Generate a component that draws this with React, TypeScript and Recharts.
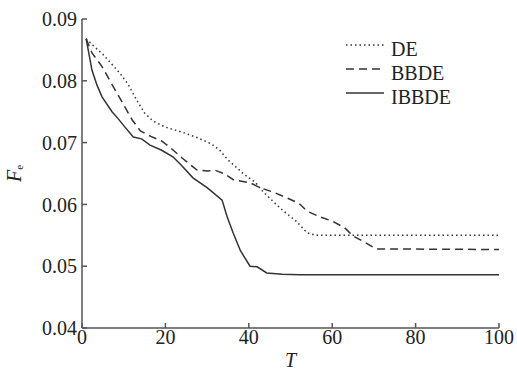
import React from "react";
import { LineChart, Line, XAxis, YAxis, Legend } from "recharts";

const deT = [1, 3, 5, 7, 9, 11, 13, 15, 17, 20, 24, 28, 31, 33, 35, 37, 39, 41.5, 43.5, 47.5, 51.5, 54, 56, 100];
const deV = [0.0868, 0.0855, 0.0843, 0.0828, 0.0813, 0.0795, 0.077, 0.0748, 0.0735, 0.0725, 0.0717, 0.0707, 0.0698, 0.0688, 0.0672, 0.066, 0.0648, 0.0636, 0.062, 0.0594, 0.0572, 0.0554, 0.055, 0.055];

const bbdeT = [1, 2.4, 4.8, 7.7, 9.6, 12, 14, 16.5, 19, 21, 24, 27.5, 30, 32, 34, 36.3, 40.3, 42.7, 45.8, 49, 52, 54, 57, 60, 63, 65, 68, 70.5, 100];
const bbdeV = [0.0868, 0.0845, 0.0823, 0.0788, 0.0766, 0.0737, 0.0719, 0.071, 0.0703, 0.0693, 0.0675, 0.0656, 0.0654, 0.0655, 0.065, 0.064, 0.0635, 0.0627, 0.062, 0.0611, 0.0602, 0.0589, 0.058, 0.0573, 0.0562, 0.0549, 0.0538, 0.0528, 0.0527];

const ibbdeT = [1, 2.4, 3.6, 4.8, 7.2, 8.5, 10.3, 12.3, 14.3, 16.3, 19, 21.8, 24, 26.6, 30, 33.6, 34.8, 36.3, 38, 40.3, 42, 44.3, 48, 52.3, 100];
const ibbdeV = [0.0868, 0.0817, 0.0793, 0.0774, 0.075, 0.074, 0.0725, 0.0709, 0.0706, 0.0696, 0.0688, 0.0677, 0.0662, 0.0643, 0.0627, 0.0607, 0.058, 0.0553, 0.0525, 0.05, 0.0499, 0.0489, 0.0487, 0.0486, 0.0486];

const xTicks = [0, 20, 40, 60, 80, 100];
const yTicks = [0.04, 0.05, 0.06, 0.07, 0.08, 0.09];
const seriesNames = ["DE", "BBDE", "IBBDE"];

const toData = (ts: number[], vs: number[]) => ts.map((t, i) => ({ t, v: vs[i] }));
const deData = toData(deT, deV);
const bbdeData = toData(bbdeT, bbdeV);
const ibbdeData = toData(ibbdeT, ibbdeV);

const FONT = "'Liberation Serif', 'Times New Roman', serif";
const LINE = "#333";
const AXIS = "#555";
const dashes = ["1.5 3", "8 5", undefined];

const LegendContent = () => (
  <div style={{ fontFamily: FONT, fontSize: 20, color: "#222" }}>
    {seriesNames.map((n, i) => (
      <div key={n} style={{ display: "flex", alignItems: "center", height: 24 }}>
        <svg width={40} height={20} style={{ marginTop: -8 }}>
          <line x1={1} x2={39} y1={10} y2={10} stroke={LINE} strokeWidth={1.5} strokeDasharray={dashes[i]} />
        </svg>
        <span style={{ marginLeft: 6, lineHeight: "24px" }}>{n}</span>
      </div>
    ))}
  </div>
);

const YLabel = (props: any) => {
  const vb = props.viewBox || {};
  const cx = 14;
  const cy = (vb.y ?? 0) + (vb.height ?? 0) / 2;
  return (
    <text x={cx} y={cy} transform={`rotate(-90, ${cx}, ${cy})`} textAnchor="middle" dominantBaseline="central" fontFamily={FONT} fontSize={20} fill="#222">
      <tspan fontStyle="italic">F</tspan>
      <tspan fontSize={11} dy={5}>e</tspan>
    </text>
  );
};

export default function App() {
  return (
    <div style={{ position: "absolute", left: 0, top: 0 }}>
      <LineChart width={517} height={372} margin={{ top: 19, right: 18, bottom: 10, left: 22 }}>
        <XAxis
          type="number"
          dataKey="t"
          domain={[0, 100]}
          ticks={xTicks}
          allowDuplicatedCategory={false}
          height={34}
          tickSize={-5}
          tickMargin={7}
          stroke={AXIS}
          strokeWidth={1.5}
          tick={{ fill: "#222", fontFamily: FONT, fontSize: 20 }}
          label={{ value: "T", position: "insideBottom", offset: -5, fontFamily: FONT, fontSize: 20, fontStyle: "italic", fill: "#222" }}
        />
        <YAxis
          type="number"
          dataKey="v"
          domain={[0.04, 0.09]}
          ticks={yTicks}
          width={60}
          tickSize={-5}
          tickMargin={10}
          stroke={AXIS}
          strokeWidth={1.5}
          tickFormatter={(v: number) => v.toFixed(2)}
          tick={{ fill: "#222", fontFamily: FONT, fontSize: 20 }}
          label={<YLabel />}
        />
        <Legend
          content={<LegendContent />}
          layout="vertical"
          align="center"
          verticalAlign="middle"
          wrapperStyle={{ position: "absolute", left: 345, top: 37, width: 120 }}
        />
        <Line data={deData} dataKey="v" name="DE" stroke={LINE} strokeWidth={1.5} strokeDasharray="1.5 3" dot={false} isAnimationActive={false} type="linear" />
        <Line data={bbdeData} dataKey="v" name="BBDE" stroke={LINE} strokeWidth={1.5} strokeDasharray="8 5" dot={false} isAnimationActive={false} type="linear" />
        <Line data={ibbdeData} dataKey="v" name="IBBDE" stroke={LINE} strokeWidth={1.5} dot={false} isAnimationActive={false} type="linear" />
      </LineChart>
    </div>
  );
}
